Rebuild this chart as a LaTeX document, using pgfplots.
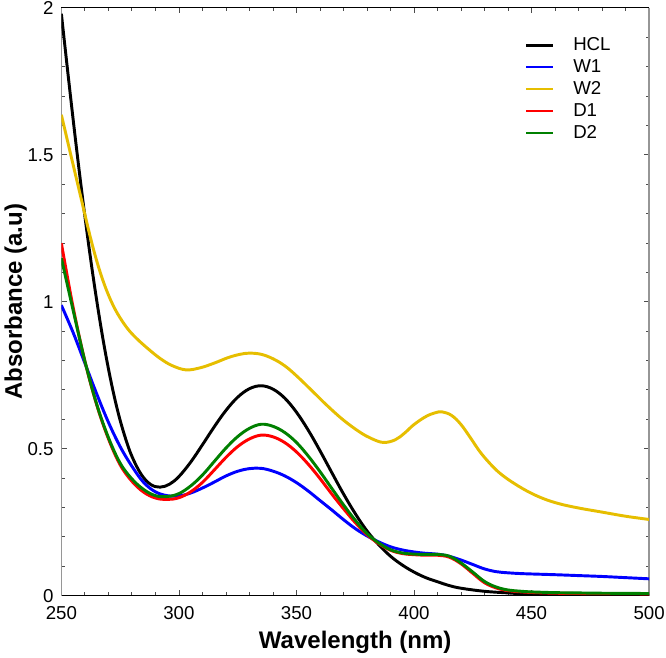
\documentclass[border=0pt]{standalone}
\usepackage{fontspec}
\setmainfont{Liberation Sans}
\usepackage{pgfplots}
\pgfplotsset{compat=1.18}

\definecolor{cHCL}{RGB}{0,0,0}
\definecolor{cW1}{RGB}{0,0,255}
\definecolor{cW2}{RGB}{230,190,0}
\definecolor{cD1}{RGB}{255,0,0}
\definecolor{cD2}{RGB}{0,128,0}
\definecolor{spine}{RGB}{150,150,150}

\begin{document}
\begin{tikzpicture}
\begin{axis}[
  scale only axis,
  width=440.6pt, height=440.6pt,
  xmin=250, xmax=500, ymin=0, ymax=2,
  xtick={250,300,...,500},
  xticklabels={250,300,350,400,450,500},
  ytick={0,0.5,1,1.5,2},
  yticklabels={0,0.5,1,1.5,2},
  minor xtick={260,270,...,490},
  minor ytick={0.1,0.2,...,1.9},
  tick align=inside,
  major tick length=4pt,
  minor tick length=2.5pt,
  every tick/.style={black!70, line width=0.6pt},
  separate axis lines,
  x axis line style={black, line width=0.9pt},
  y axis line style={spine, line width=0.9pt},
  ticklabel style={font=\fontsize{14}{16}\selectfont, inner sep=1pt},
  xticklabel style={yshift=-6.7pt},
  yticklabel style={xshift=-4.7pt},
  xlabel={\bfseries Wavelength (nm)},
  ylabel={\bfseries Absorbance (a.u)},
  label style={font=\fontsize{18}{20}\selectfont},
  xlabel style={yshift=-4pt},
  ylabel style={yshift=-4pt},
  legend style={draw=none, fill=none, at={(0.782,0.9585)}, anchor=north west,
    font=\fontsize{14}{16}\selectfont, row sep=1.2pt},
  legend cell align=left,
  legend image code/.code={\draw[#1, line width=1.8pt] (0pt,0pt) -- (20pt,0pt); \path (32pt,0pt);},
  every axis plot/.append style={line width=2.2pt, smooth, tension=0.6},
  clip=true,
]
% HCL
\addplot[cHCL] coordinates {
(250,1.98) (253,1.762) (256,1.552) (259,1.354) (262,1.171) (265,1.006)
(268,0.859) (271,0.733) (274,0.627) (277,0.542) (280,0.474) (284,0.412)
(288,0.378) (292,0.369) (296,0.379) (300,0.405) (305,0.454) (310,0.513)
(315,0.574) (320,0.630) (325,0.675) (330,0.704) (335,0.714) (340,0.7025)
(345,0.672) (350,0.624) (355,0.563) (360,0.493) (365,0.419) (370,0.346)
(375,0.279) (380,0.220) (385,0.173) (390,0.134) (395,0.104) (400,0.080)
(405,0.061) (410,0.047) (415,0.034) (420,0.025) (430,0.0145) (440,0.009)
(450,0.0045) (465,0.002) (480,0.001) (500,0.0005)
};
\addlegendentry{HCL}
% W1
\addplot[cW1] coordinates {
(250,0.988) (255,0.895) (260,0.791) (265,0.687) (270,0.590) (275,0.507)
(280,0.440) (285,0.385) (290,0.353) (295,0.340) (300,0.339) (305,0.349)
(310,0.366) (315,0.386) (320,0.407) (325,0.423) (330,0.432) (335,0.433)
(340,0.4235) (345,0.4074) (350,0.3844) (355,0.3558) (360,0.3236) (365,0.2916)
(370,0.2585) (375,0.228) (380,0.203) (385,0.1827) (390,0.166) (395,0.1554)
(400,0.1484) (405,0.1438) (410,0.141) (415,0.1336) (420,0.121) (425,0.1058)
(430,0.0907) (435,0.0813) (440,0.0774) (445,0.075) (450,0.0735) (460,0.071)
(470,0.068) (480,0.065) (490,0.061) (500,0.057)
};
\addlegendentry{W1}
% W2
\addplot[cW2] coordinates {
(250,1.636) (254,1.50) (258,1.365) (262,1.23) (265,1.14) (268,1.065)
(271,1.005) (274,0.958) (278,0.91) (282,0.875) (287,0.839) (292,0.807)
(297,0.783) (303,0.768) (309,0.775) (315,0.791) (321,0.810) (326,0.821)
(330,0.825) (335,0.821) (340,0.806) (345,0.782) (350,0.748) (357,0.694)
(363,0.647) (370,0.597) (377,0.556) (382,0.534) (387,0.521) (392,0.53)
(396,0.553) (400,0.582) (405,0.609) (409,0.622) (412,0.625) (416,0.613)
(420,0.582) (424,0.537) (428,0.49) (432,0.452) (436,0.42) (441,0.39)
(448,0.356) (455,0.33) (462,0.312) (470,0.298) (480,0.284) (490,0.27)
(500,0.259)
};
\addlegendentry{W2}
% D1
\addplot[cD1] coordinates {
(250,1.199) (255,0.981) (260,0.798) (265,0.650) (270,0.534) (275,0.445)
(280,0.389) (285,0.352) (290,0.332) (295,0.327) (300,0.333) (305,0.353)
(310,0.385) (315,0.427) (320,0.470) (325,0.507) (330,0.533) (335,0.546)
(340,0.5402) (345,0.5207) (350,0.4889) (355,0.4471) (360,0.3984) (365,0.3459)
(370,0.2957) (375,0.2485) (380,0.2073) (385,0.1767) (390,0.1542) (395,0.1431)
(400,0.1391) (405,0.1374) (410,0.1372) (415,0.1307) (420,0.1081) (425,0.0756)
(430,0.0437) (435,0.0258) (440,0.0166) (445,0.013) (450,0.0105) (460,0.008)
(470,0.007) (480,0.0065) (500,0.006)
};
\addlegendentry{D1}
% D2
\addplot[cD2] coordinates {
(250,1.148) (255,0.971) (260,0.798) (265,0.652) (270,0.538) (275,0.451)
(280,0.397) (285,0.361) (290,0.340) (295,0.337) (300,0.347) (305,0.373)
(310,0.41) (315,0.456) (320,0.502) (325,0.541) (330,0.569) (335,0.583)
(340,0.576) (345,0.555) (350,0.521) (355,0.475) (360,0.422) (365,0.365)
(370,0.309) (375,0.2565) (380,0.211) (385,0.179) (390,0.156) (395,0.145)
(400,0.141) (405,0.140) (410,0.140) (415,0.134) (420,0.111) (425,0.080)
(430,0.048) (435,0.029) (440,0.019) (445,0.015) (450,0.0125) (460,0.01)
(470,0.009) (480,0.008) (500,0.007)
};
\addlegendentry{D2}
\end{axis}
\end{tikzpicture}
\end{document}
